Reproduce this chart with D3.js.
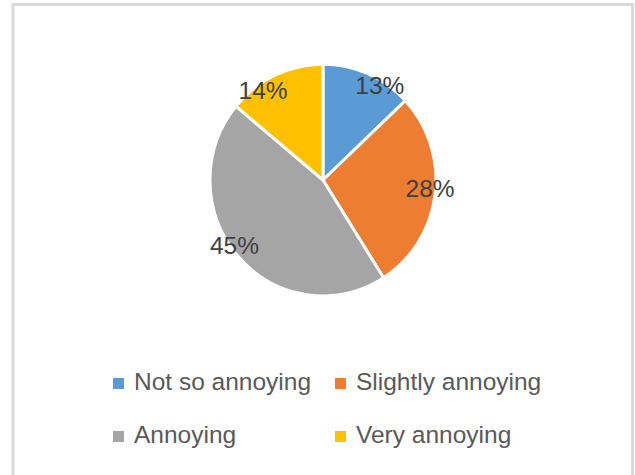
<!DOCTYPE html>
<html>
<head>
<meta charset="utf-8">
<script src="https://cdn.jsdelivr.net/npm/d3@7"></script>
<style>
  html, body { margin: 0; padding: 0; background: #fff; }
  svg { display: block; }
</style>
</head>
<body>
<svg id="chart" width="635" height="475"></svg>
<script>
// ---- data ----
const categories = ["Not so annoying", "Slightly annoying", "Annoying", "Very annoying"];
const values = [13, 28, 45, 14];
const colors = ["#5B9BD5", "#ED7D31", "#A5A5A5", "#FFC000"];

// ---- layout (not data) ----
const W = 635, H = 475;
const cx = 323, cy = 180, R = 113, yStretch = 1.025;
const labelRadius = 108;
// best-fit label nudges (Excel-like placement) relative to arc centroid, baseline-aligned
const labelNudge = [[14, 16], [0, 3.5], [-7.5, 1], [-14, 19]];

const svg = d3.select("#chart");

// frame
svg.append("rect")
  .attr("x", 13).attr("y", 4.5)
  .attr("width", 619.5).attr("height", 500)
  .attr("fill", "#fff")
  .attr("stroke", "#D9D9D9")
  .attr("stroke-width", 3);

const pie = d3.pie().sort(null).value(d => d)(values);
const arc = d3.arc().innerRadius(0).outerRadius(R);
const labelArc = d3.arc().innerRadius(labelRadius).outerRadius(labelRadius);

const g = svg.append("g").attr("transform", `translate(${cx},${cy}) scale(1,${yStretch})`);

g.selectAll("path.slice")
  .data(pie)
  .join("path")
  .attr("class", "slice")
  .attr("d", arc)
  .attr("fill", (d, i) => colors[i])
  .attr("stroke", "#fff")
  .attr("stroke-width", 3)
  .attr("stroke-linejoin", "round");

const total = d3.sum(values);
const lg = svg.append("g").attr("transform", `translate(${cx},${cy})`);
lg.selectAll("text.lbl")
  .data(pie)
  .join("text")
  .attr("class", "lbl")
  .attr("x", (d, i) => labelArc.centroid(d)[0] + labelNudge[i][0])
  .attr("y", (d, i) => labelArc.centroid(d)[1] * yStretch + labelNudge[i][1])
  .attr("text-anchor", "middle")
  .attr("font-family", "'Liberation Sans', Arial, sans-serif")
  .attr("font-size", 24.5)
  .attr("fill", "#404040")
  .text(d => Math.round(d.data / total * 100) + "%");

// legend
const legendCols = [113, 335];
const legendRows = [390, 443];
const leg = svg.append("g");
categories.forEach((c, i) => {
  const x = legendCols[i % 2], y = legendRows[Math.floor(i / 2)];
  leg.append("rect")
    .attr("x", x).attr("y", y - 12)
    .attr("width", 11).attr("height", 11)
    .attr("fill", colors[i]);
  leg.append("text")
    .attr("x", x + 21).attr("y", y)
    .attr("font-family", "'Liberation Sans', Arial, sans-serif")
    .attr("font-size", 24.5)
    .attr("fill", "#595959")
    .text(c);
});
</script>
</body>
</html>
